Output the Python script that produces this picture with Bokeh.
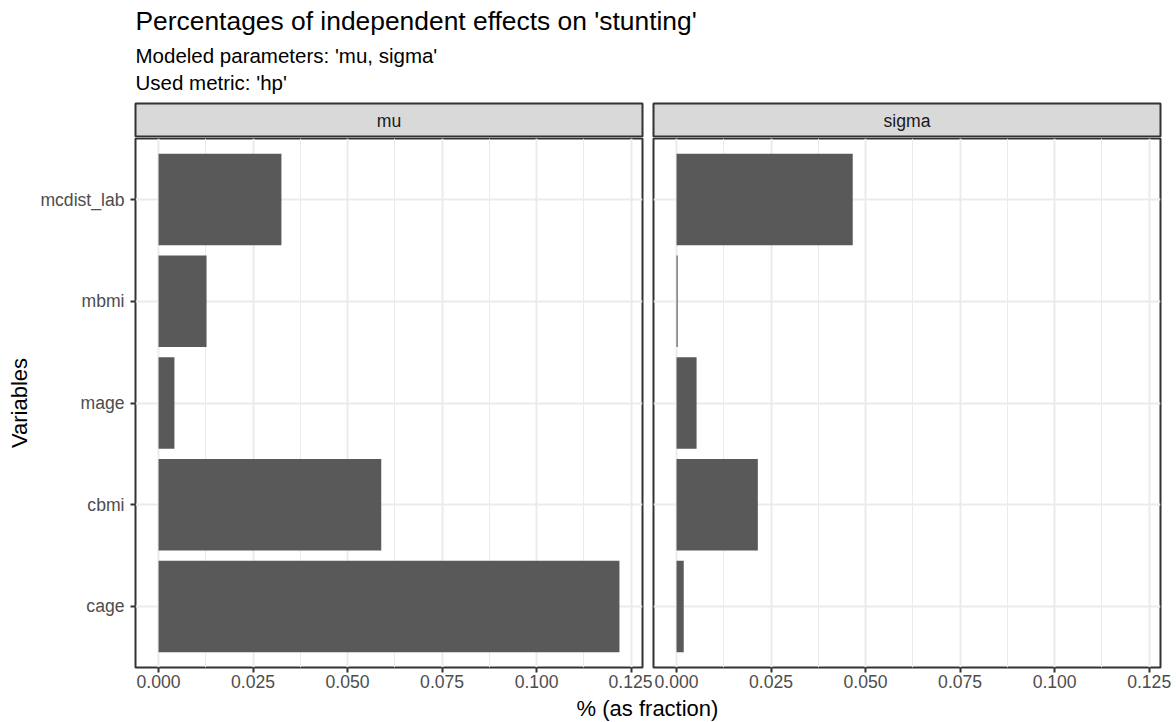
from bokeh.plotting import figure
from bokeh.models import Range1d, FixedTicker, NumeralTickFormatter
from bokeh.layouts import column, row
from bokeh.embed import file_html
from bokeh.resources import INLINE
from bokeh.core.properties import value

# ---- data -------------------------------------------------------------
variables = ["cage", "cbmi", "mage", "mbmi", "mcdist_lab"]   # bottom -> top
mu_effects = [0.1219, 0.0589, 0.0042, 0.0127, 0.0325]
sigma_effects = [0.0019, 0.0215, 0.0053, 0.0003, 0.0466]
facets = ["mu", "sigma"]
x_ticks = [0.0, 0.025, 0.05, 0.075, 0.1, 0.125]

title_text = "Percentages of independent effects on 'stunting'"
subtitle_lines = ["Modeled parameters: 'mu, sigma'", "Used metric: 'hp'"]
x_title = "% (as fraction)"
y_title = "Variables"

# ---- style ------------------------------------------------------------
FONT = "Liberation Sans"
BAR = "#595959"
GRID = "#EBEBEB"
DARK = "#333333"
TICK_TXT = "#4D4D4D"
STRIP_BG = "#D9D9D9"

positions = list(range(1, len(variables) + 1))
xmax = max(mu_effects + sigma_effects)
pad = 0.05 * xmax
x_range = Range1d(-pad, xmax + pad)
y_range = Range1d(0.4, len(variables) + 0.6)
minor = [t + 0.0125 for t in x_ticks[:-1]]


def panel(vals, width, left, right, show_y):
    p = figure(width=width, height=557, x_range=x_range, y_range=y_range,
               output_backend="svg", toolbar_location=None,
               min_border_left=left, min_border_right=right,
               min_border_top=1, min_border_bottom=27,
               y_axis_location="left" if show_y else None)
    p.background_fill_color = "white"
    p.border_fill_color = "white"
    p.outline_line_color = DARK
    p.outline_line_width = 2

    p.hbar(y=positions, left=0, right=vals, height=0.9,
           fill_color=BAR, line_color=None)

    xt = FixedTicker(ticks=x_ticks, minor_ticks=minor)
    p.xaxis.ticker = xt
    p.xaxis.formatter = NumeralTickFormatter(format="0.000")
    p.xaxis.axis_line_color = None
    p.xaxis.major_tick_line_color = DARK
    p.xaxis.major_tick_line_width = 2
    p.xaxis.major_tick_in = 0
    p.xaxis.major_tick_out = 5
    p.xaxis.minor_tick_line_color = None
    p.xaxis.major_label_standoff = 2
    p.xaxis.major_label_text_font = FONT
    p.xaxis.major_label_text_font_size = "17.6px"
    p.xaxis.major_label_text_color = TICK_TXT

    p.xgrid.ticker = xt
    p.xgrid.grid_line_color = GRID
    p.xgrid.grid_line_width = 2
    p.xgrid.minor_grid_line_color = GRID
    p.xgrid.minor_grid_line_width = 1

    yt = FixedTicker(ticks=positions)
    p.ygrid.ticker = yt
    p.ygrid.grid_line_color = GRID
    p.ygrid.grid_line_width = 2

    if show_y:
        ax = p.yaxis[0]
        ax.ticker = yt
        ax.major_label_overrides = {pos: name for pos, name in zip(positions, variables)}
        ax.axis_line_color = None
        ax.major_tick_line_color = DARK
        ax.major_tick_line_width = 2
        ax.major_tick_in = 0
        ax.major_tick_out = 5
        ax.minor_tick_line_color = None
        ax.major_label_standoff = 6
        ax.major_label_text_font = FONT
        ax.major_label_text_font_size = "17.6px"
        ax.major_label_text_color = TICK_TXT
        ax.axis_label = y_title
        ax.axis_label_text_font = FONT
        ax.axis_label_text_font_size = "22px"
        ax.axis_label_text_font_style = "normal"
        ax.axis_label_text_color = "black"
        ax.axis_label_standoff = 5
    return p


def strip(label, width, left, right):
    s = figure(width=width, height=35, x_range=Range1d(0, 1), y_range=Range1d(0, 1),
               output_backend="svg", toolbar_location=None,
               min_border_left=left, min_border_right=right,
               min_border_top=1, min_border_bottom=0,
               x_axis_location=None, y_axis_location=None)
    s.background_fill_color = STRIP_BG
    s.border_fill_color = "white"
    s.outline_line_color = DARK
    s.outline_line_width = 2
    s.grid.visible = False
    s.text(x=[0.5], y=[0.5], text=[label], text_align="center", text_baseline="middle",
           text_font=value(FONT), text_font_size="17.6px", text_color="#1A1A1A")
    return s


def blank(width, height):
    f = figure(width=width, height=height, x_range=Range1d(0, width), y_range=Range1d(height, 0),
               output_backend="svg", toolbar_location=None, min_border=0,
               x_axis_location=None, y_axis_location=None)
    f.outline_line_color = None
    f.grid.visible = False
    f.background_fill_color = "white"
    f.border_fill_color = "white"
    return f


# header with title and subtitle
head = blank(1176, 102)
head.text(x=[135], y=[20], text=[title_text], text_baseline="middle",
          text_font=value(FONT), text_font_size="26.4px", text_color="black")
head.text(x=[135, 135], y=[55, 82], text=subtitle_lines, text_baseline="middle",
          text_font=value(FONT), text_font_size="20.5px", text_color="black")

# facet panels
left_w, right_w = 652, 524
strip_l = strip(facets[0], left_w, 135, 10)
strip_r = strip(facets[1], right_w, 1, 16)
panel_l = panel(mu_effects, left_w, 135, 10, True)
panel_r = panel(sigma_effects, right_w, 1, 16, False)

# shared x-axis title
foot = blank(1176, 28)
foot.text(x=[647], y=[14], text=[x_title], text_align="center", text_baseline="middle",
          text_font=value(FONT), text_font_size="22px", text_color="black")

layout = column(head, row(column(strip_l, panel_l), column(strip_r, panel_r)), foot)

open("out.html", "w").write(file_html(layout, INLINE))
